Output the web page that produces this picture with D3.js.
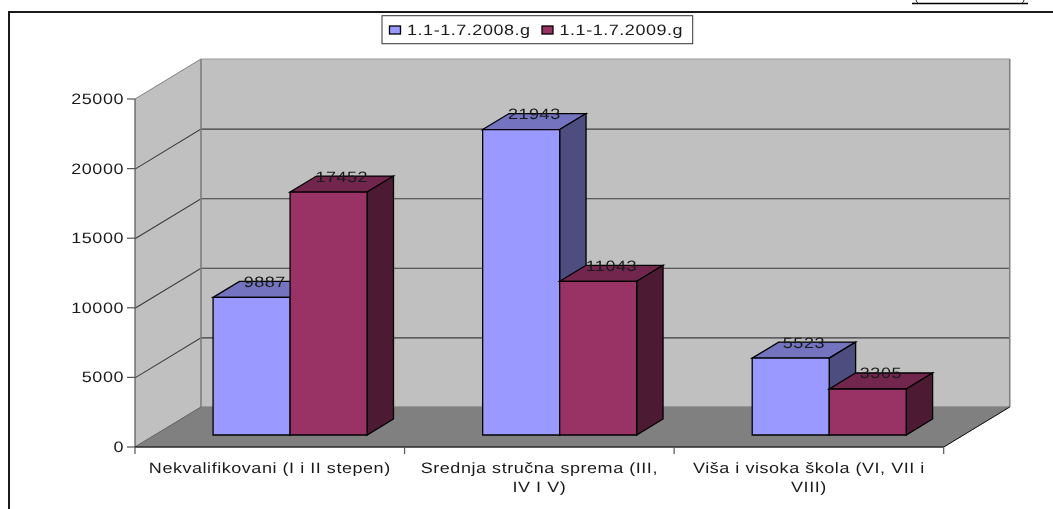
<!DOCTYPE html>
<html>
<head>
<meta charset="utf-8">
<script src="https://cdn.jsdelivr.net/npm/d3@7"></script>
<style>
  html, body { margin: 0; padding: 0; background: #fff; overflow: hidden; }
  svg { filter: blur(0.35px); }
  text { font-family: "Liberation Sans", Arial, sans-serif; fill: #1a1a1a; letter-spacing: 0.45px; text-rendering: geometricPrecision; }
</style>
</head>
<body>
<svg id="chart" width="1053" height="509"></svg>
<script>
var categories = [
  ["Nekvalifikovani (I i II stepen)"],
  ["Srednja stručna sprema (III,", "IV I V)"],
  ["Viša i visoka škola (VI, VII i", "VIII)"]
];
var seriesNames = ["1.1-1.7.2008.g", "1.1-1.7.2009.g"];
var values2008 = [9887, 21943, 5523];
var values2009 = [17452, 11043, 3305];
var yTicks = [0, 5000, 10000, 15000, 20000, 25000];

var colors = {
  front: ["#9999ff", "#993366"],
  top: ["#7373bf", "#73264d"],
  side: ["#4d4d80", "#4d1a33"]
};

var svg = d3.select("#chart");
var textScale = 1.2;

var xScale = d3.scaleBand().domain(d3.range(categories.length)).range([135, 943.7]);
var yScale = d3.scaleLinear().domain([0, 25000]).range([447, 99]);
var depthX = 66, depthY = -40;

// x is measured on the front edge of the floor, depth goes 0 (front) to 1 (back wall)
function pt(x, value, depth) {
  return [x + depth * depthX, yScale(value) + depth * depthY];
}

function poly(parent, points, fill, stroke, width) {
  return parent.append("polygon")
    .attr("points", points.map(function (p) { return p.join(","); }).join(" "))
    .attr("fill", fill)
    .attr("stroke", stroke)
    .attr("stroke-width", width)
    .attr("stroke-linejoin", "miter");
}

function label(parent, x, y, str, anchor, size) {
  return parent.append("text")
    .attr("transform", "translate(" + x + "," + y + ") scale(" + textScale + ",1)")
    .attr("text-anchor", anchor)
    .attr("font-size", size || 15)
    .text(str);
}

// outer frame, it runs past the right and bottom of the picture
svg.append("path")
  .attr("d", "M9,509V12H1053")
  .attr("fill", "none")
  .attr("stroke", "#1a1a1a")
  .attr("stroke-width", 2);

// cropped rule at the top right, with the feet of the cut off text above it
svg.append("line")
  .attr("x1", 912).attr("x2", 1028).attr("y1", 3.5).attr("y2", 3.5)
  .attr("stroke", "#000").attr("stroke-width", 1.6);
svg.append("path")
  .attr("d", "M916,0Q916.5,2.5 918,3M1024,0Q1023.5,2.5 1022,3")
  .attr("fill", "none").attr("stroke", "#333").attr("stroke-width", 1);

var x0 = xScale.range()[0], x1 = xScale.range()[1];
var walls = svg.append("g");

poly(walls, [pt(x0, 0, 0), pt(x0, 25000, 0), pt(x0, 25000, 1), pt(x0, 0, 1)], "#c0c0c0", "none", 0);
poly(walls, [pt(x0, 0, 1), pt(x0, 25000, 1), pt(x1, 25000, 1), pt(x1, 0, 1)], "#c0c0c0", "#9a9a9a", 1);
poly(walls, [pt(x0, 0, 0), pt(x0, 0, 1), pt(x1, 0, 1), pt(x1, 0, 0)], "#808080", "#808080", 1);

// gridlines run along the side wall and then the back wall
yTicks.slice(1, -1).forEach(function (t) {
  walls.append("polyline")
    .attr("points", [pt(x0, t, 0), pt(x0, t, 1), pt(x1, t, 1)].map(function (p) { return p.join(","); }).join(" "))
    .attr("transform", "translate(0,0.5)")
    .attr("fill", "none")
    .attr("stroke", "#3c3c3c")
    .attr("stroke-width", 1.1);
});

walls.append("line")
  .attr("x1", pt(x0, 25000, 0)[0]).attr("y1", pt(x0, 25000, 0)[1])
  .attr("x2", pt(x0, 25000, 1)[0]).attr("y2", pt(x0, 25000, 1)[1])
  .attr("stroke", "#808080");
walls.append("line")
  .attr("x1", pt(x0, 0, 1)[0]).attr("y1", pt(x0, 0, 1)[1])
  .attr("x2", pt(x0, 25000, 1)[0]).attr("y2", pt(x0, 25000, 1)[1])
  .attr("stroke", "#808080").attr("stroke-width", 1.5);
walls.append("line")
  .attr("x1", pt(x1, 25000, 1)[0]).attr("y1", pt(x1, 25000, 1)[1])
  .attr("x2", pt(x1, 0, 1)[0]).attr("y2", pt(x1, 0, 1)[1])
  .attr("stroke", "#808080").attr("stroke-width", 1.5);
walls.append("line")
  .attr("x1", pt(x0, 0, 0)[0]).attr("y1", pt(x0, 0, 0)[1])
  .attr("x2", pt(x0, 0, 1)[0]).attr("y2", pt(x0, 0, 1)[1])
  .attr("stroke", "#666");
walls.append("line")
  .attr("x1", pt(x1, 0, 0)[0]).attr("y1", pt(x1, 0, 0)[1])
  .attr("x2", pt(x1, 0, 1)[0]).attr("y2", pt(x1, 0, 1)[1])
  .attr("stroke", "#111");

// bars
var barW = 77, barFront = 0.3, barBack = 0.7;
var bars = svg.append("g");
var labels = svg.append("g");

categories.forEach(function (c, i) {
  var mid = xScale(i) + xScale.bandwidth() / 2 + 0.5;
  [values2008[i], values2009[i]].forEach(function (v, s) {
    var l = mid + (s - 1) * barW, r = l + barW;
    var g = bars.append("g");
    poly(g, [pt(l, v, barFront), pt(l, v, barBack), pt(r, v, barBack), pt(r, v, barFront)], colors.top[s], "#000", 1.3);
    poly(g, [pt(r, 0, barFront), pt(r, v, barFront), pt(r, v, barBack), pt(r, 0, barBack)], colors.side[s], "#000", 1.3);
    poly(g, [pt(l, 0, barFront), pt(l, v, barFront), pt(r, v, barFront), pt(r, 0, barFront)], colors.front[s], "#000", 1.3);
    // the label sits on the back edge of the top face
    label(labels, pt((l + r) / 2, v, 0.5)[0], pt(l, v, barBack)[1] + 5.5, v, "middle");
  });
});

// axis lines and ticks
var axes = svg.append("g");
axes.append("line")
  .attr("x1", x0).attr("x2", x0).attr("y1", yScale(25000)).attr("y2", yScale(0))
  .attr("stroke", "#555").attr("stroke-width", 1.2);
axes.append("line")
  .attr("x1", x0).attr("x2", x1).attr("y1", yScale(0)).attr("y2", yScale(0))
  .attr("stroke", "#000").attr("stroke-width", 1.2);

yTicks.forEach(function (t) {
  axes.append("line")
    .attr("x1", x0 - 8).attr("x2", x0).attr("y1", yScale(t)).attr("y2", yScale(t))
    .attr("stroke", "#555").attr("stroke-width", 1.2);
  label(axes, x0 - 11, yScale(t) + 5, t, "end");
});

d3.range(categories.length + 1).forEach(function (i) {
  var x = x0 + i * xScale.step();
  axes.append("line")
    .attr("x1", x).attr("x2", x).attr("y1", yScale(0)).attr("y2", yScale(0) + 7)
    .attr("stroke", "#555").attr("stroke-width", 1.2);
});

categories.forEach(function (c, i) {
  var mid = xScale(i) + xScale.bandwidth() / 2;
  c.forEach(function (line, j) {
    label(axes, mid, 472.5 + j * 19.5, line, "middle");
  });
});

// legend
var legend = svg.append("g");
legend.append("rect")
  .attr("x", 382).attr("y", 15.7).attr("width", 310.7).attr("height", 28)
  .attr("fill", "#fff").attr("stroke", "#333").attr("stroke-width", 1);
[389.5, 542].forEach(function (x, s) {
  legend.append("rect")
    .attr("x", x).attr("y", 26).attr("width", 11).attr("height", 8)
    .attr("fill", colors.front[s]).attr("stroke", "#000").attr("stroke-width", 1.3);
  label(legend, x + 17.5, 34.5, seriesNames[s], "start");
});
</script>
</body>
</html>
